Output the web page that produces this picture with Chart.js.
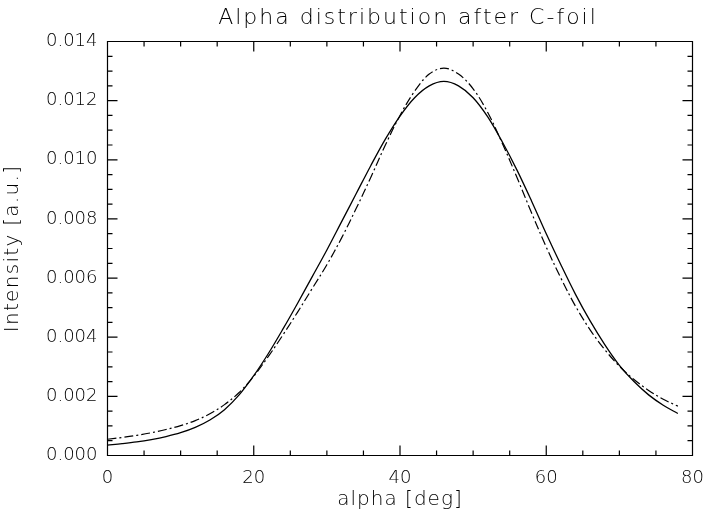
<!DOCTYPE html>
<html><head><meta charset="utf-8">
<script src="https://cdn.jsdelivr.net/npm/chart.js@4.4.0/dist/chart.umd.min.js"></script>
<style>html,body{margin:0;padding:0;background:#fff}#wrap{width:710px;height:513px}</style>
</head><body><div id="wrap"><canvas id="c" width="710" height="513"></canvas></div>
<script>
const alphaDeg = [0,2,4,6,8,10,12,14,16,18,20,22,24,26,28,30,32,34,36,38,40,42,44,46,48,50,52,54,56,58,60,62,64,66,68,70,72,74,76,78];
const solidIntensity = [0.00035,0.00040,0.00046,0.00054,0.00064,0.00077,0.00095,0.00120,0.00155,0.00205,0.00270,0.00345,0.00428,0.00515,0.00605,0.00695,0.00790,0.00885,0.00980,0.01070,0.01148,0.01210,0.01250,0.01265,0.01250,0.01210,0.01145,0.01060,0.00965,0.00860,0.00750,0.00645,0.00545,0.00455,0.00375,0.00305,0.00250,0.00205,0.00170,0.00142];
const dashDotIntensity = [0.00055,0.00061,0.00068,0.00077,0.00088,0.00101,0.00118,0.00141,0.00172,0.00213,0.00268,0.00335,0.00408,0.00485,0.00565,0.00645,0.00735,0.00835,0.00940,0.01050,0.01150,0.01232,0.01290,0.01310,0.01290,0.01240,0.01160,0.01055,0.00940,0.00820,0.00705,0.00600,0.00505,0.00425,0.00358,0.00302,0.00257,0.00220,0.00190,0.00167];
const xMajorTicks = [0,20,40,60,80];
const yMajorTicks = [0,0.002,0.004,0.006,0.008,0.010,0.012,0.014];
const chartTitle = 'Alpha distribution after C-foil';
const xTitle = 'alpha [deg]';
const yTitle = 'Intensity [a.u.]';

const FAMILY = "'DejaVu Sans', sans-serif";
const isMajor = (v, arr) => arr.some(m => Math.abs(m - v) < 1e-9);

const framePlugin = {
  id: 'frame',
  afterDraw(chart) {
    const {ctx, chartArea: a, scales: {x, y}} = chart;
    ctx.save();
    ctx.strokeStyle = '#000';
    ctx.lineWidth = 1.2;
    ctx.beginPath();
    ctx.rect(a.left, a.top, a.right - a.left, a.bottom - a.top);
    x.ticks.forEach(t => {
      const px = x.getPixelForValue(t.value);
      const L = isMajor(t.value, xMajorTicks) ? 10 : 5;
      ctx.moveTo(px, a.bottom); ctx.lineTo(px, a.bottom - L);
      ctx.moveTo(px, a.top); ctx.lineTo(px, a.top + L);
    });
    y.ticks.forEach(t => {
      const py = y.getPixelForValue(t.value);
      const L = isMajor(t.value, yMajorTicks) ? 10 : 5;
      ctx.moveTo(a.left, py); ctx.lineTo(a.left + L, py);
      ctx.moveTo(a.right, py); ctx.lineTo(a.right - L, py);
    });
    ctx.stroke();
    ctx.fillStyle = '#000';
    ctx.textAlign = 'center';
    ctx.textBaseline = 'middle';
    ctx.font = `200 22px ${FAMILY}`;
    ctx.letterSpacing = '2px';
    ctx.fillText(chartTitle, (a.left + a.right) / 2 + 8, 18);
    ctx.font = `200 20px ${FAMILY}`;
    ctx.letterSpacing = '1px';
    ctx.fillText(xTitle, (a.left + a.right) / 2, 500);
    ctx.letterSpacing = '1.3px';
    ctx.translate(13, (a.top + a.bottom) / 2);
    ctx.rotate(-Math.PI / 2);
    ctx.fillText(yTitle, 0, 0);
    ctx.restore();
  }
};

new Chart(document.getElementById('c'), {
  type: 'line',
  data: {
    datasets: [
      {
        label: 'solid',
        data: alphaDeg.map((a, i) => ({x: a, y: solidIntensity[i]})),
        borderColor: '#000', borderWidth: 1.3, pointRadius: 0, tension: 0.35, fill: false
      },
      {
        label: 'dash-dot',
        data: alphaDeg.map((a, i) => ({x: a, y: dashDotIntensity[i]})),
        borderColor: '#000', borderWidth: 1.2, borderDash: [9, 3, 2, 3], pointRadius: 0, tension: 0.35, fill: false
      }
    ]
  },
  options: {
    responsive: false,
    animation: false,
    devicePixelRatio: 1,
    layout: {padding: {left: 0, right: 17.5, top: 41.5, bottom: 0}},
    plugins: {legend: {display: false}, title: {display: false}, tooltip: {enabled: false}},
    scales: {
      x: {
        type: 'linear', min: 0, max: 80,
        grid: {display: false, drawTicks: false},
        border: {display: false},
        ticks: {
          stepSize: 5, autoSkip: false, maxRotation: 0, padding: 12,
          color: '#000', font: {family: FAMILY, size: 18, weight: 200},
          callback: v => isMajor(v, xMajorTicks) ? String(Math.round(v)) : ''
        },
        afterFit(s) { s.height = 57.5; s.paddingLeft = 0; s.paddingRight = 0; }
      },
      y: {
        type: 'linear', min: 0, max: 0.014,
        grid: {display: false, drawTicks: false},
        border: {display: false},
        ticks: {
          stepSize: 0.0005, autoSkip: false, padding: 10,
          color: '#000', font: {family: FAMILY, size: 18, weight: 200},
          callback: v => isMajor(v, yMajorTicks) ? v.toFixed(3) : ''
        },
        afterFit(s) { s.width = 107.5; s.paddingTop = 0; s.paddingBottom = 0; }
      }
    }
  },
  plugins: [framePlugin]
});
</script></body></html>
